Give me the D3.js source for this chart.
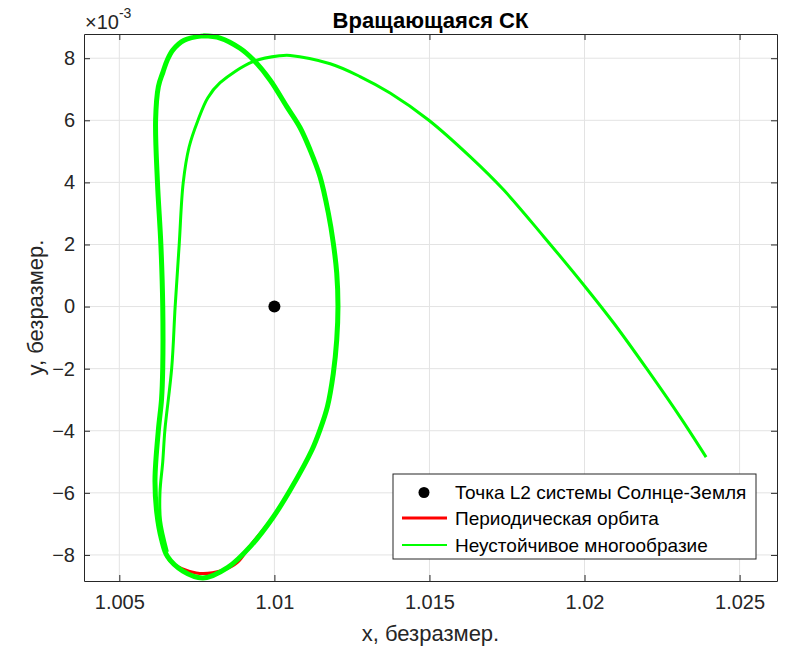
<!DOCTYPE html>
<html>
<head>
<meta charset="utf-8">
<script src="https://cdn.jsdelivr.net/npm/d3@7"></script>
<style>
  body { margin: 0; background: #fff; }
  svg { display: block; font-family: "Liberation Sans", Arial, sans-serif; }
</style>
</head>
<body>
<svg id="chart" width="785" height="648"></svg>
<script>
// Данные (y в единицах 1e-3)
const xTicks = [1.005, 1.01, 1.015, 1.02, 1.025];
const xTickLabels = ["1.005", "1.01", "1.015", "1.02", "1.025"];
const yTicks = [-8, -6, -4, -2, 0, 2, 4, 6, 8];

const l2X = [1.01];
const l2Y = [0];

// Периодическая орбита
const orbitX = [1.00770, 1.00825, 1.00889, 1.00932, 1.00986, 1.01040, 1.01083, 1.01115, 1.01147, 1.01174, 1.01190,
  1.01201, 1.01205, 1.01201, 1.01190, 1.01171, 1.01147, 1.01121, 1.01051, 1.00997, 1.00922,
  1.00880, 1.00832, 1.00748, 1.00664, 1.00642, 1.00621, 1.00615, 1.00626, 1.00636, 1.00640, 1.00640,
  1.00634, 1.00623, 1.00617, 1.00626, 1.00641, 1.00655, 1.00673, 1.00709, 1.00770];
const orbitY = [8.72, 8.65, 8.32, 7.95, 7.30, 6.44, 5.76, 5.05, 4.19, 3.01, 2.04,
  1.08, 0, -1.07, -2.15, -3.22, -3.97, -4.62, -5.91, -6.77, -7.70,
  -8.25, -8.50, -8.58, -8.20, -7.62, -6.66, -5.58, -3.97, -3.00, -1.97, 0,
  1.99, 3.99, 6.01, 7.09, 7.56, 7.95, 8.27, 8.58, 8.72];

// Неустойчивое многообразие: пучок вдоль орбиты
const bundleX = [1.00770, 1.00825, 1.00889, 1.00932, 1.00986, 1.01040, 1.01083, 1.01115, 1.01147, 1.01174, 1.01190,
  1.01201, 1.01205, 1.01201, 1.01190, 1.01171, 1.01147, 1.01121, 1.01051, 1.00997, 1.00925,
  1.00850, 1.00770, 1.00705, 1.00655, 1.00636, 1.00621, 1.00615, 1.00626, 1.00636, 1.00640, 1.00640,
  1.00634, 1.00623, 1.00617, 1.00626, 1.00641, 1.00655, 1.00673, 1.00709, 1.00770];
const bundleY = [8.72, 8.65, 8.32, 7.95, 7.30, 6.44, 5.76, 5.05, 4.19, 3.01, 2.04,
  1.08, 0, -1.07, -2.15, -3.22, -3.97, -4.62, -5.91, -6.77, -7.70,
  -8.40, -8.74, -8.52, -8.05, -7.50, -6.66, -5.58, -3.97, -3.00, -1.97, 0,
  1.99, 3.99, 6.01, 7.09, 7.56, 7.95, 8.27, 8.58, 8.72];

// Неустойчивое многообразие: уходящая ветвь
const escapeX = [1.00655, 1.00633, 1.00631, 1.00640, 1.00647, 1.00669, 1.00680, 1.00693, 1.00706, 1.00725,
  1.00754, 1.00785, 1.00825, 1.00931, 1.01018, 1.01051, 1.01180, 1.01276, 1.01373, 1.01497,
  1.01631, 1.01739, 1.01868, 1.02002, 1.02094, 1.02201, 1.02309, 1.02392];
const escapeY = [-7.90, -6.90, -6.00, -5.00, -3.97, -1.97, 0, 1.99, 3.99, 5.14,
  6.01, 6.72, 7.21, 7.89, 8.08, 8.09, 7.82, 7.41, 6.88, 6.01,
  4.83, 3.76, 2.26, 0.64, -0.53, -2.01, -3.57, -4.85];

const legendLabels = ["Точка L2 системы Солнце-Земля", "Периодическая орбита", "Неустойчивое многообразие"];

const svg = d3.select("#chart");
const margin = { top: 34, right: 8, bottom: 67, left: 84 };
const width = 785 - margin.left - margin.right;
const height = 648 - margin.top - margin.bottom;
const axisColor = "#262626";

const x = d3.scaleLinear().domain([1.003861, 1.026206]).range([0, width]);
const y = d3.scaleLinear().domain([-8.84, 8.78]).range([height, 0]);

const g = svg.append("g").attr("transform", `translate(${margin.left},${margin.top})`);

// сетка
g.append("g").selectAll("line").data(xTicks).join("line")
  .attr("x1", d => x(d)).attr("x2", d => x(d))
  .attr("y1", 0).attr("y2", height)
  .attr("stroke", "#e3e3e3").attr("stroke-width", 1);
g.append("g").selectAll("line").data(yTicks).join("line")
  .attr("y1", d => y(d)).attr("y2", d => y(d))
  .attr("x1", 0).attr("x2", width)
  .attr("stroke", "#e3e3e3").attr("stroke-width", 1);

const line = d3.line().curve(d3.curveCatmullRom.alpha(0.5));
const pts = (xs, ys) => xs.map((v, i) => [x(v), y(ys[i])]);

g.append("path").attr("d", line(pts(orbitX, orbitY)))
  .attr("fill", "none").attr("stroke", "#ff0000").attr("stroke-width", 3);
g.append("path").attr("d", line(pts(bundleX, bundleY)))
  .attr("fill", "none").attr("stroke", "#00ff00").attr("stroke-width", 5)
  .attr("stroke-linejoin", "round");
g.append("path").attr("d", line(pts(escapeX, escapeY)))
  .attr("fill", "none").attr("stroke", "#00ff00").attr("stroke-width", 3)
  .attr("stroke-linejoin", "round");

g.selectAll(".l2").data(l2X).join("circle")
  .attr("class", "l2")
  .attr("cx", d => x(d)).attr("cy", (d, i) => y(l2Y[i]))
  .attr("r", 6).attr("fill", "#000");

// оси
const xAxis = g.append("g").attr("transform", `translate(0,${height})`)
  .call(d3.axisBottom(x).tickValues(xTicks).tickFormat((d, i) => xTickLabels[i]).tickSizeInner(-6).tickSizeOuter(0).tickPadding(14));
const xAxisTop = g.append("g")
  .call(d3.axisTop(x).tickValues(xTicks).tickFormat("").tickSizeInner(-6).tickSizeOuter(0));
const yAxis = g.append("g")
  .call(d3.axisLeft(y).tickValues(yTicks).tickSizeInner(-6).tickSizeOuter(0).tickPadding(9));
const yAxisRight = g.append("g").attr("transform", `translate(${width},0)`)
  .call(d3.axisRight(y).tickValues(yTicks).tickFormat("").tickSizeInner(-6).tickSizeOuter(0));

[xAxis, xAxisTop, yAxis, yAxisRight].forEach(a => {
  a.select(".domain").attr("stroke", axisColor);
  a.selectAll(".tick line").attr("stroke", axisColor);
  a.selectAll(".tick text").attr("fill", axisColor)
    .style("font-family", "'Liberation Sans', Arial, sans-serif").style("font-size", "20px");
});

// множитель оси y
const mult = svg.append("text").attr("x", margin.left + 1).attr("y", 29)
  .attr("fill", axisColor).style("font-size", "20px");
mult.append("tspan").text("×10");
mult.append("tspan").attr("dy", -11).style("font-size", "14px").text("-3");

// заголовок и подписи осей
svg.append("text").attr("x", margin.left + width / 2).attr("y", 28)
  .attr("text-anchor", "middle").attr("font-weight", "bold")
  .style("font-size", "22px").attr("fill", "#000").text("Вращающаяся СК");
svg.append("text").attr("x", margin.left + width / 2).attr("y", 641)
  .attr("text-anchor", "middle").style("font-size", "22px").attr("fill", axisColor)
  .text("x, безразмер.");
svg.append("text").attr("transform", `translate(43,${margin.top + height / 2}) rotate(-90)`)
  .attr("text-anchor", "middle").style("font-size", "22px").attr("fill", axisColor)
  .text("y, безразмер.");

// легенда
const lg = svg.append("g").attr("transform", "translate(393,474)");
lg.append("rect").attr("width", 363).attr("height", 85)
  .attr("fill", "#fff").attr("stroke", axisColor).attr("stroke-width", 1);
const rowY = [18.5, 44, 71];
lg.append("circle").attr("cx", 31).attr("cy", rowY[0]).attr("r", 5.5).attr("fill", "#000");
lg.append("line").attr("x1", 9).attr("x2", 54).attr("y1", rowY[1]).attr("y2", rowY[1])
  .attr("stroke", "#ff0000").attr("stroke-width", 3);
lg.append("line").attr("x1", 9).attr("x2", 54).attr("y1", rowY[2]).attr("y2", rowY[2])
  .attr("stroke", "#00ff00").attr("stroke-width", 1.8);
lg.selectAll(".lt").data(legendLabels).join("text")
  .attr("class", "lt")
  .attr("x", 62).attr("y", (d, i) => rowY[i])
  .attr("dy", "0.35em").style("font-size", "19px").attr("fill", "#000")
  .text(d => d);
</script>
</body>
</html>
